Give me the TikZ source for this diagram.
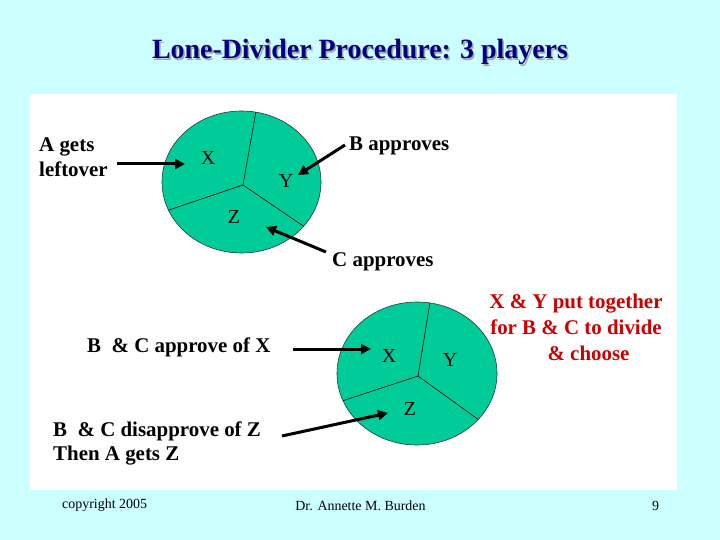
\documentclass[tikz,border=0pt]{standalone}
\usepackage{fontspec}
\setmainfont{Liberation Serif}
\usetikzlibrary{arrows.meta}
\definecolor{bgcyan}{RGB}{204,255,255}
\definecolor{piegreen}{RGB}{0,204,153}
\definecolor{titlenavy}{RGB}{0,0,128}
\definecolor{notered}{RGB}{204,0,0}
\tikzset{
  lbl/.style={font=\fontsize{21}{24.5}\selectfont\bfseries, inner sep=0pt, align=left},
  piece/.style={font=\fontsize{20}{24}\selectfont, inner sep=0pt},
  foot/.style={font=\fontsize{14}{16}\selectfont, inner sep=0pt},
  bigarrow/.style={line width=3bp, -{Triangle[length=10bp,width=10bp]}, black},
  pie/.style={fill=piegreen, draw=black!80, line width=0.6bp},
  cut/.style={draw=black, line width=0.6bp}
}
\begin{document}
\begin{tikzpicture}[x=1bp,y=-1bp]
\useasboundingbox (0,0) rectangle (720,540);
\fill[bgcyan] (0,0) rectangle (720,540);
\fill[white] (30,94) rectangle (677,490);
% title
\node[font=\fontsize{28}{32}\selectfont\bfseries, text=black!35, inner sep=0pt] at (361.5,53.5) {Lone-Divider Procedure: 3 players};
\node (title) [font=\fontsize{28}{32}\selectfont\bfseries, text=titlenavy, inner sep=0pt] at (360,52) {Lone-Divider Procedure: 3 players};
% pie 1
\path[pie] (241.5,182) ellipse [x radius=79.5, y radius=71];
\begin{scope}
\clip (241.5,182) ellipse [x radius=79.5, y radius=71];
\draw[cut] (243,185) -- (258,100);
\draw[cut] (243,185) -- (160,213);
\draw[cut] (243,185) -- (315,234);
\end{scope}
\node (x1) [piece] at (208,158) {X};
\node (y1) [piece] at (286,181) {Y};
\node (z1) [piece] at (234,217) {Z};
\coordinate (tx1) at (185,164);
\coordinate (ty1) at (298,175);
\coordinate (tz1) at (266,227);
% pie 2
\path[pie] (417,373.5) ellipse [x radius=80, y radius=71.5];
\begin{scope}
\clip (417,373.5) ellipse [x radius=80, y radius=71.5];
\draw[cut] (418,376) -- (432,290);
\draw[cut] (418,376) -- (330,405);
\draw[cut] (418,376) -- (490,428);
\end{scope}
\node (x2) [piece] at (389,356) {X};
\node (y2) [piece] at (450,360) {Y};
\node (z2) [piece] at (410,409) {Z};
\coordinate (tx2) at (371,349);
\coordinate (tz2) at (388,413);
% labels
\node (agets) [lbl, anchor=west] at (39,157) {A gets\\leftover};
\node (bapp) [lbl, anchor=west] at (349,146) {B approves};
\node (capp) [lbl, anchor=west] at (332,262) {C approves};
\node (bcx) [lbl, anchor=west] at (87,347) {B~ \& C approve of X};
\node (bcz) [lbl, anchor=west] at (53,443.5) {B~ \& C disapprove of Z\\Then A gets Z};
\node (xy) [font=\fontsize{21}{26}\selectfont\bfseries, text=notered, align=center, inner sep=0pt] at (576,327) {X \& Y put together\\for B \& C to divide\\\hspace*{1.2em}\& choose};
% arrows
\draw[bigarrow] (117,164) -- (tx1);
\draw[bigarrow] (345,145) -- (ty1);
\draw[bigarrow] (326,252) -- (tz1);
\draw[bigarrow] (293,349) -- (tx2);
\draw[bigarrow] (282,436) -- (tz2);
% footer
\node (copy) [foot, anchor=west] at (62,505.5) {copyright 2005};
\node (auth) [foot] at (360.5,505.5) {Dr. Annette M. Burden};
\node (pg) [foot] at (655.5,505.5) {9};
\end{tikzpicture}
\end{document}
